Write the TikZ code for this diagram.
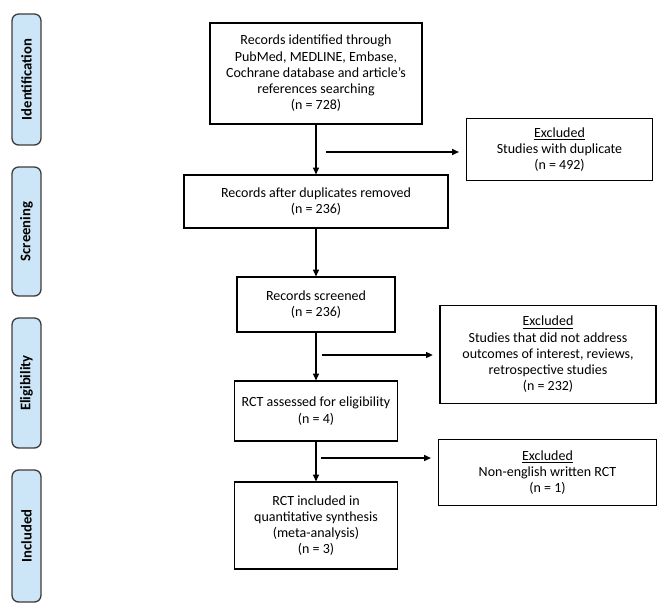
\documentclass[tikz,border=0pt]{standalone}
\usepackage{fontspec}
\setmainfont{Carlito}
\usepackage{xcolor}
\usetikzlibrary{arrows.meta}
\definecolor{phaseblue}{HTML}{CDE6F7}
\definecolor{phaseedge}{HTML}{3C3C3C}

\begin{document}
\begin{tikzpicture}[x=0.75pt, y=-0.75pt,
    >={Triangle[length=5pt, width=4.5pt]},
    flowbox/.style={draw, line width=0.9pt, align=center, inner sep=2pt,
        font=\fontsize{10.5}{12.2}\selectfont},
    phase/.style={draw=phaseedge, fill=phaseblue, line width=1pt, rounded corners=5pt,
        rotate=90, minimum height=21.75pt, inner sep=0pt,
        font=\fontsize{11}{13}\selectfont\bfseries}]
            \useasboundingbox (0,0) rectangle (668,612);

            % Phases
            \node[phase, minimum width=98.25pt] (ident) at (26.5,79.5) {Identification};
            \node[phase, minimum width=96.75pt] (screen) at (26.5,231.5) {Screening};
            \node[phase, minimum width=97.5pt] (elig) at (26.5,383) {Eligibility};
            \node[phase, minimum width=99pt] (incl) at (26.5,536) {Included};

            % Main flow
            \node[flowbox, minimum width=159pt, minimum height=75.75pt] (records) at (316,73.5)
                {Records identified through\\PubMed, MEDLINE, Embase,\\Cochrane database and article's\\references searching\\(n = 728)};
            \node[flowbox, minimum width=198pt, minimum height=39.75pt] (nodup) at (316,201.5)
                {Records after duplicates removed\\(n = 236)};
            \node[flowbox, minimum width=118.5pt, minimum height=41.25pt] (screened) at (316,304.5)
                {Records screened\\(n = 236)};
            \node[flowbox, minimum width=122pt, minimum height=45pt] (assessed) at (316,411)
                {RCT assessed for eligibility\\(n = 4)};
            \node[flowbox, minimum width=122pt, minimum height=65.25pt] (included) at (316,525.5)
                {RCT included in\\quantitative synthesis\\(meta-analysis)\\(n = 3)};

            % Excluded
            \node[flowbox, minimum width=140pt, minimum height=47pt] (excdup) at (559.5,149.5)
                {\underline{Excluded}\\Studies with duplicate\\(n = 492)};
            \node[flowbox, minimum width=162pt, minimum height=74pt] (excout) at (548,354.5)
                {\underline{Excluded}\\Studies that did not address\\outcomes of interest, reviews,\\retrospective studies\\(n = 232)};
            \node[flowbox, minimum width=164pt, minimum height=49pt] (exclang) at (547.5,472.5)
                {\underline{Excluded}\\Non-english written RCT\\(n = 1)};

            % Arrows down
            \draw[->, line width=0.9pt] (records) -- (nodup);
            \draw[->, line width=0.9pt] (nodup) -- (screened);
            \draw[->, line width=0.9pt] (screened) -- (assessed);
            \draw[->, line width=0.9pt] (assessed) -- (included);

            % Arrows to the side
            \coordinate (a1) at (326,152);
            \coordinate (a2) at (322,355);
            \coordinate (a3) at (321,458);
            \draw[->, line width=0.9pt, shorten >=5pt] (a1) -- (a1 -| excdup.west);
            \draw[->, line width=0.9pt, shorten >=5pt] (a2) -- (a2 -| excout.west);
            \draw[->, line width=0.9pt, shorten >=5pt] (a3) -- (a3 -| exclang.west);
        \end{tikzpicture}
\end{document}
